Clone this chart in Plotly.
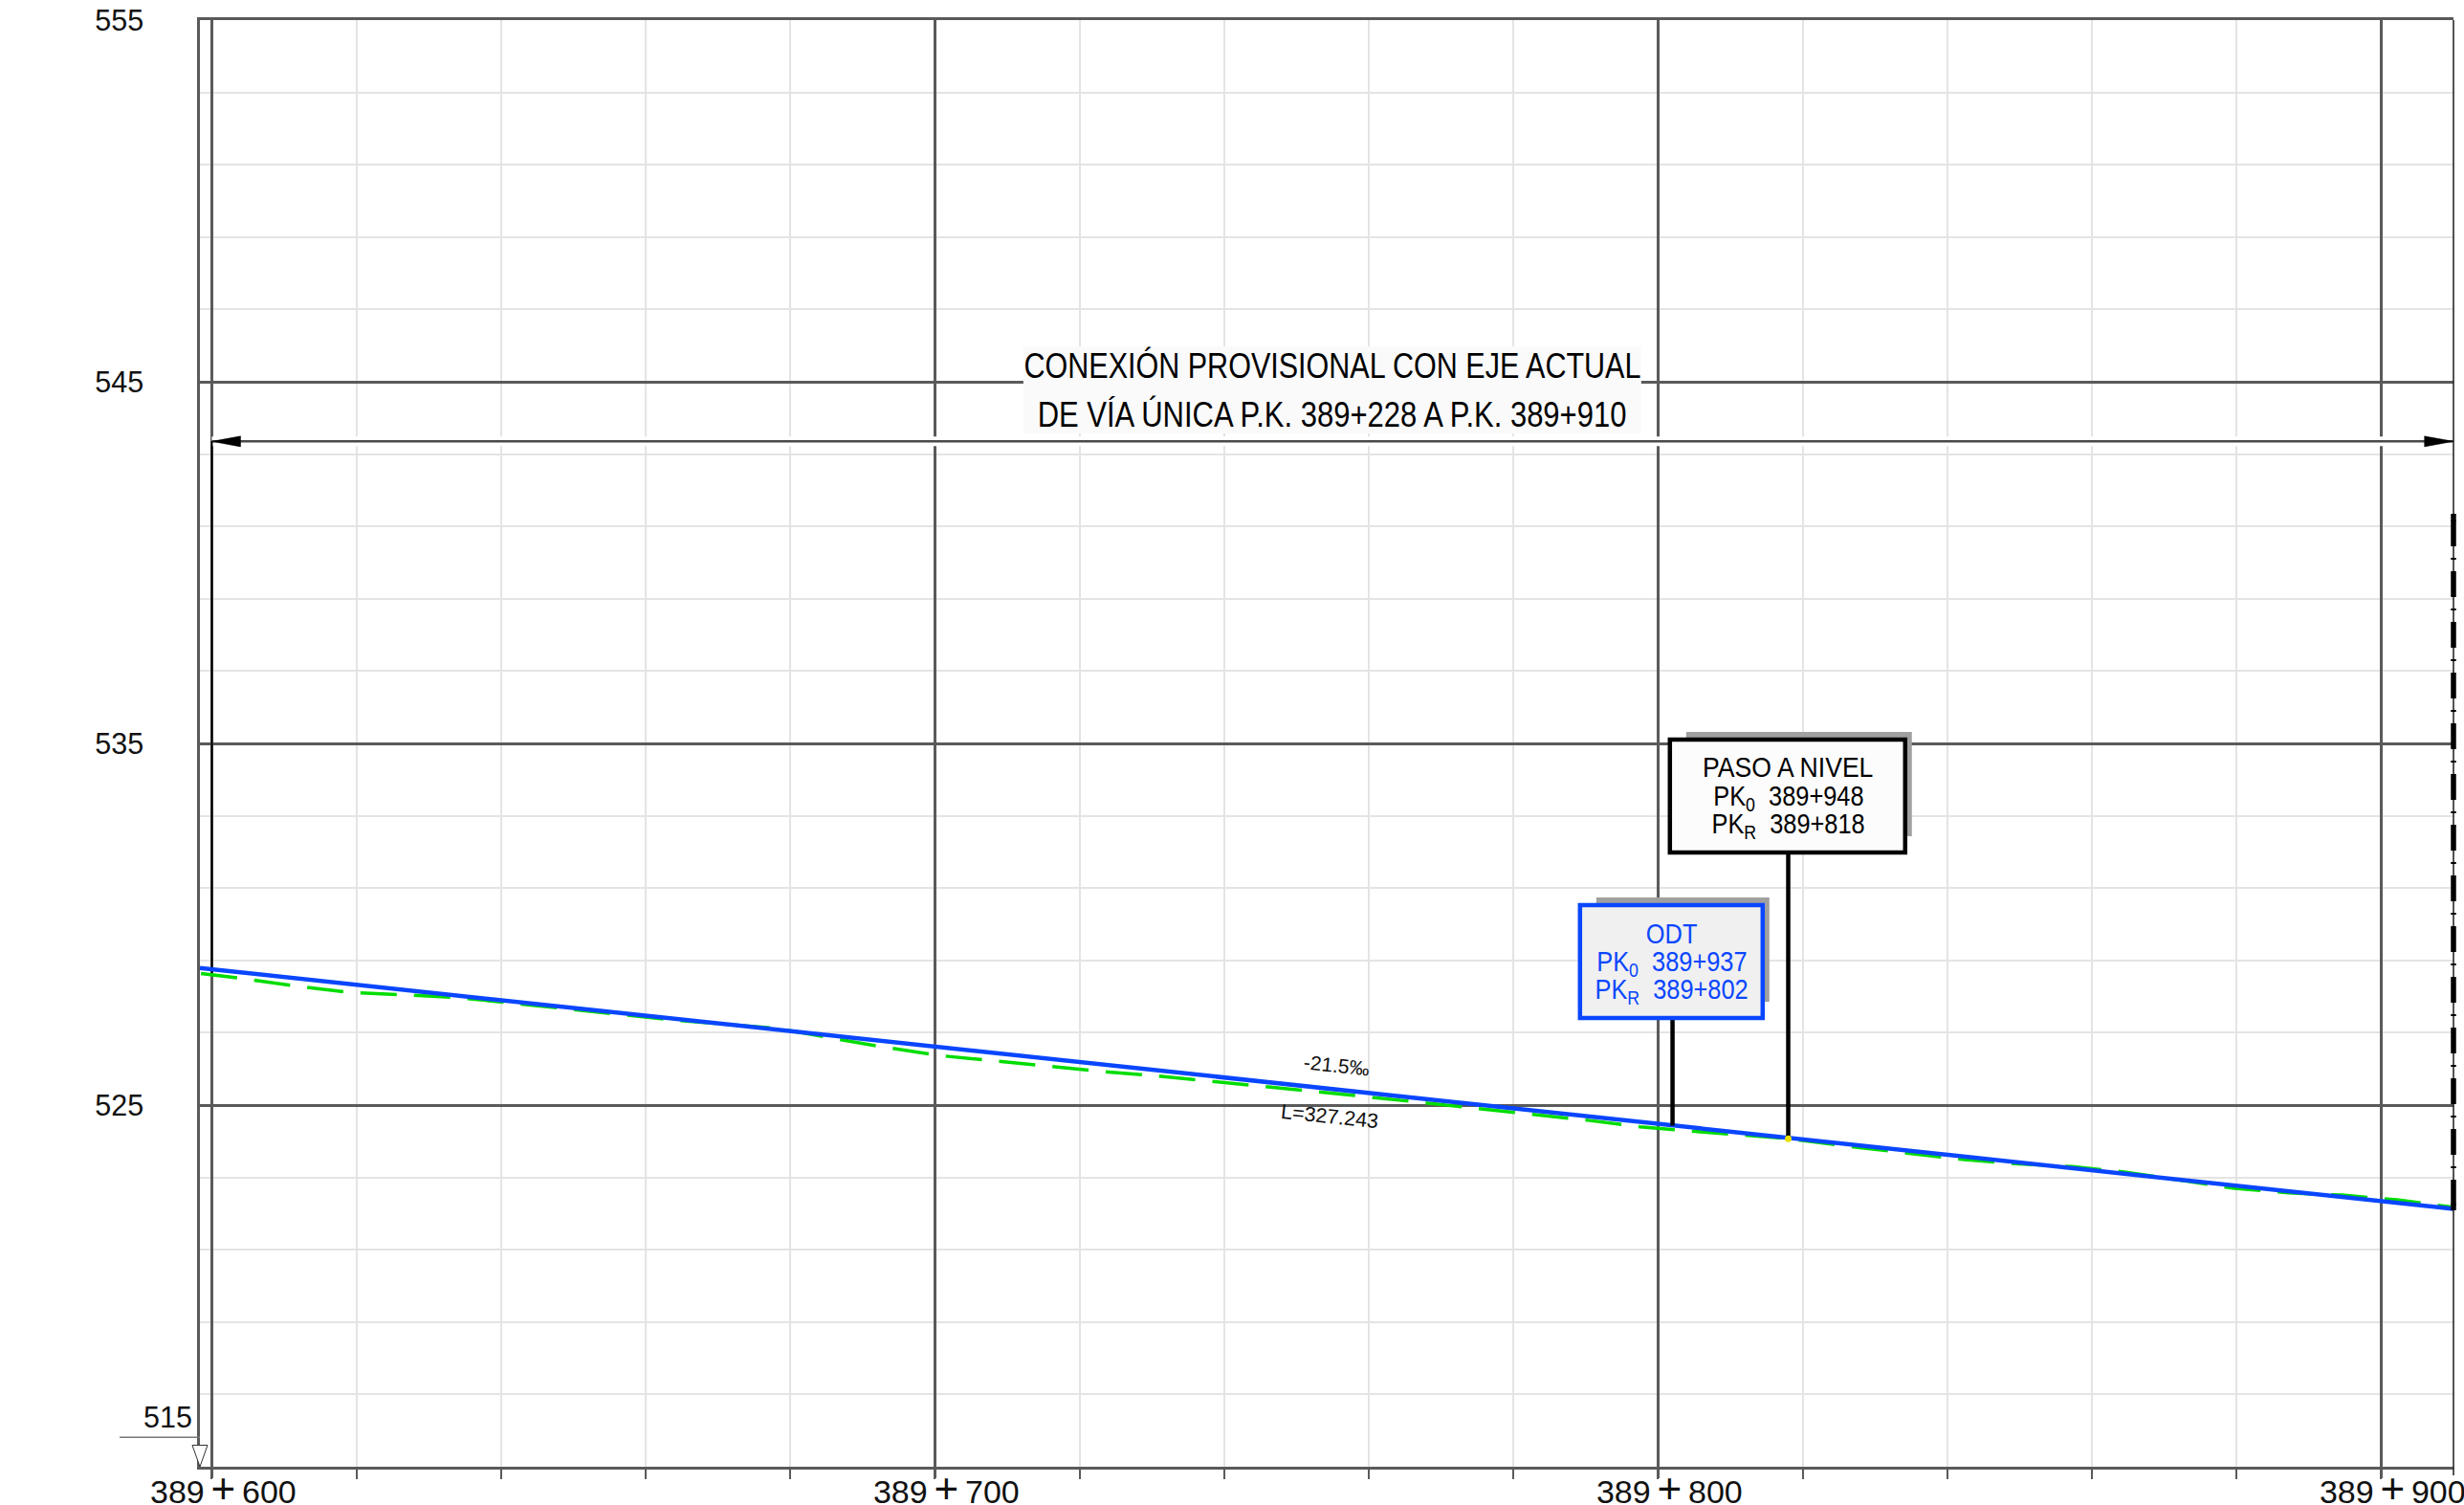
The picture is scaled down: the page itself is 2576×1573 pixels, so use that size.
import plotly.graph_objects as go

# ---------- data ----------
x_major = [600, 700, 800, 900]
x_km = ["389", "389", "389", "389"]
x_m = ["600", "700", "800", "900"]
y_major = [515, 525, 535, 545, 555]
y_labels = ["", "525", "535", "545", "555"]

blue_x = [598.35, 910.0]
blue_y = [528.79, 522.13]

green_x = [598.5, 603.9, 611.3, 618.7, 626.1, 633.6, 641.0, 648.5, 655.9, 663.3, 670.7, 678.1, 685.5, 693.0,
           700.6, 708.0, 715.5, 723.1, 730.5, 738.0, 745.6, 753.0, 760.2, 767.8, 775.3, 782.7, 790.3, 797.5,
           805.2, 812.5, 817.7, 827.6, 835.0, 842.4, 849.9, 857.3, 864.5, 872.1, 879.7, 887.2, 894.6, 902.2, 909.7]
green_y = [528.64, 528.51, 528.30, 528.12, 528.05, 527.98, 527.83, 527.67, 527.51, 527.36, 527.24, 527.12, 526.86, 526.60,
           526.37, 526.22, 526.08, 525.93, 525.81, 525.66, 525.53, 525.38, 525.22, 525.06, 524.89, 524.74, 524.58, 524.40,
           524.27, 524.15, 524.08, 523.83, 523.65, 523.49, 523.37, 523.30, 523.15, 522.93, 522.70, 522.57, 522.51, 522.38, 522.18]

stem_pk = [802, 818]
stem_base = [524.43, 524.07]
stem_box_bottom = [528.90, 532.10]
dim_y = [543.35, 543.35]
dim_x = [600, 910]

# ---------- geometry of the frame, pixels ----------
W, H = 2576, 1573
L, R, T, B = 209.0, 2565.3, 21.0, 1533.0
x0, x1, y0, y1 = 598.35, 910.0, 515.0, 555.0


def dx(px):
    return x0 + (px - L) / (R - L) * (x1 - x0)


def dy(py):
    return y0 + (B - py) / (B - T) * (y1 - y0)


def fx(px):
    return (px - L) / (R - L)


def fy(py):
    return (B - py) / (B - T)


DARK = "#5a5a5a"
LIGHT = "#e4e4e4"
BLUE = "#0a46ff"
GREEN = "#00dd00"
SANS = "Liberation Sans"

fig = go.Figure()


def line(xs, ys, color, width, dash="solid", name=""):
    fig.add_trace(go.Scatter(x=xs, y=ys, mode="lines", name=name,
                             line=dict(color=color, width=width, dash=dash),
                             hoverinfo="skip", showlegend=False))


# dimension line with its white halo
line(dim_x, dim_y, "#ffffff", 10, name="halo")
line(dim_x, dim_y, "#4a4a4a", 2.5, name="dimension")
for tip, base in ((600, dx(251.5)), (910, dx(2535))):
    fig.add_trace(go.Scatter(x=[tip, base, base, tip],
                             y=[dim_y[0], dim_y[0] + 0.146, dim_y[0] - 0.146, dim_y[0]],
                             mode="lines", fill="toself", fillcolor="#000000",
                             line=dict(color="#000000", width=0.5), hoverinfo="skip", showlegend=False))

# thin limits
line([600, 600], [dim_y[0], 528.62], "#000000", 2, name="limit left")

# profile lines
line(green_x, green_y, GREEN, 3.5, dash="38px,18px", name="terrain")
line(blue_x, blue_y, BLUE, 4.5, name="grade")

# stems
for pk, base, top in zip(stem_pk, stem_base, stem_box_bottom):
    line([pk, pk], [base, top], "#000000", 4.5, name="stem")
fig.add_trace(go.Scatter(x=[818], y=[524.07], mode="markers",
                         marker=dict(color="#e8e000", size=7), hoverinfo="skip", showlegend=False))

shapes = []


def rect(px0, py0, px1, py1, fill, color=None, width=0):
    shapes.append(dict(type="rect", xref="x", yref="y", x0=dx(px0), x1=dx(px1), y0=dy(py1), y1=dy(py0),
                       fillcolor=fill, line=dict(color=color or fill, width=width), layer="above"))


# title background
rect(1070, 362, 1716, 453, "#fafafa")
# PASO A NIVEL
rect(1763, 765, 1999, 874, "#a0a0a0")
rect(1746, 773, 1992, 891, "#fcfcfc", "#000000", 4.5)
# ODT
rect(1669, 938, 1850, 1047, "#a0a0a0")
rect(1652, 946, 1843, 1064, "#f0f0f0", BLUE, 4.5)
# right limit: thin line, then heavy dash-dot boundary, both straddling the frame edge
shapes.append(dict(type="line", xref="paper", yref="paper", x0=1, x1=1, y0=-9 / (B - T), y1=1,
                   line=dict(color="#1a1a1a", width=1.5), layer="above"))
shapes.append(dict(type="line", xref="paper", yref="y", x0=1, x1=1, y0=dy(544), y1=dy(1265),
                   line=dict(color="#000000", width=5.5, dash="27px,12px,2px,12px"), layer="above"))
shapes.append(dict(type="line", xref="paper", yref="y", x0=1, x1=1, y0=dy(537), y1=dy(545),
                   line=dict(color="#000000", width=5.5), layer="above"))
shapes.append(dict(type="line", xref="paper", yref="y", x0=1, x1=1, y0=dy(1258), y1=dy(1265),
                   line=dict(color="#000000", width=5.5), layer="above"))
# 515 leader and open triangle at the foot of the frame
shapes.append(dict(type="line", xref="paper", yref="paper", x0=fx(125), x1=0, y0=fy(1502.3), y1=fy(1502.3),
                   line=dict(color="#777777", width=1.5), layer="above"))
shapes.append(dict(type="path", xref="paper", yref="paper",
                   path=f"M {fx(209)},{fy(1533)} L {fx(201)},{fy(1510.5)} L {fx(217)},{fy(1510.5)} Z",
                   fillcolor="#ffffff", line=dict(color="#333333", width=1), layer="above"))

annotations = []


def label(px, py, text, size, color="#000000", angle=0):
    annotations.append(dict(xref="x", yref="y", x=dx(px), y=dy(py), text=text, showarrow=False,
                            xanchor="center", yanchor="middle", textangle=angle,
                            font=dict(family=SANS, size=size, color=color)))


NB = "\u00a0\u00a0"
label(1393, 382, "CONEXIÓN PROVISIONAL CON EJE ACTUAL", 37)
label(1393, 433, "DE VÍA ÚNICA P.K. 389+228 A P.K. 389+910", 37)
label(1870, 802, "PASO A NIVEL", 29)
label(1870, 833.5, "PK<sub>0</sub>" + NB + "389+948", 29)
label(1870, 862.5, "PK<sub>R</sub>" + NB + "389+818", 29)
label(1748, 976, "ODT", 29, BLUE)
label(1748, 1006.5, "PK<sub>0</sub>" + NB + "389+937", 29, BLUE)
label(1748, 1035.5, "PK<sub>R</sub>" + NB + "389+802", 29, BLUE)
label(1398, 1113, "-21.5‰", 21, "#111111", 6)
label(1390, 1167, "L=327.243", 21.5, "#111111", 6)
annotations.append(dict(xref="paper", yref="paper", x=fx(203), y=fy(1481), text="515",
                        showarrow=False, xanchor="right", yanchor="middle",
                        font=dict(family=SANS, size=30.5, color="#111111")))

PLUS = "\u2009<span style='font-size:44px'>+</span>\u2009"
fig.update_layout(
    width=W, height=H, margin=dict(l=L, r=W - R, t=T, b=H - B, autoexpand=False),
    paper_bgcolor="#ffffff", plot_bgcolor="#ffffff", showlegend=False,
    shapes=shapes, annotations=annotations, hovermode=False,
    xaxis=dict(range=[x0, x1], tickmode="array", tickvals=x_major,
               ticktext=["\u2002\u2009" + a + PLUS + b for a, b in zip(x_km, x_m)],
               showgrid=True, gridcolor=DARK, gridwidth=2.5, zeroline=False,
               showline=True, linecolor=DARK, linewidth=2.5, mirror=True,
               ticks="outside", ticklen=9, tickwidth=2.5, tickcolor=DARK, ticklabelstandoff=-15,
               ticklabeloverflow="allow",
               tickfont=dict(family=SANS, size=34, color="#111111"), tickangle=0,
               minor=dict(tick0=600, dtick=20, showgrid=True, gridcolor=LIGHT, gridwidth=2,
                          ticks="outside", ticklen=10, tickwidth=2, tickcolor=DARK)),
    yaxis=dict(range=[y0, y1], tickmode="array", tickvals=y_major, ticktext=y_labels,
               showgrid=True, gridcolor=DARK, gridwidth=2.5, zeroline=False,
               showline=True, linecolor=DARK, linewidth=2.5,
               ticks="", ticklabelstandoff=50,
               tickfont=dict(family=SANS, size=30.5, color="#111111"),
               minor=dict(tick0=515, dtick=2, showgrid=True, gridcolor=LIGHT, gridwidth=2, ticks="")),
)

# the reference lettering is condensed: narrow the real text horizontally
POST = """
document.body.style.margin='0';document.body.style.overflow='hidden';
function narrow(){document.querySelectorAll('.annotation-text').forEach(function(t){
  var s=parseFloat(t.style.fontSize);var c=t.textContent;var k=1;
  if(s==37){k=c.indexOf('DE')==0?0.838:0.825;}
  else if(s==29){k=c.indexOf('PASO')==0?0.917:0.875;}
  if(k!=1){t.style.transformBox='fill-box';t.style.transformOrigin='center';t.style.transform='scaleX('+k+')';}
});}
narrow();setTimeout(narrow,200);
"""
fig.write_html("out.html", config={"displayModeBar": False}, post_script=POST)
